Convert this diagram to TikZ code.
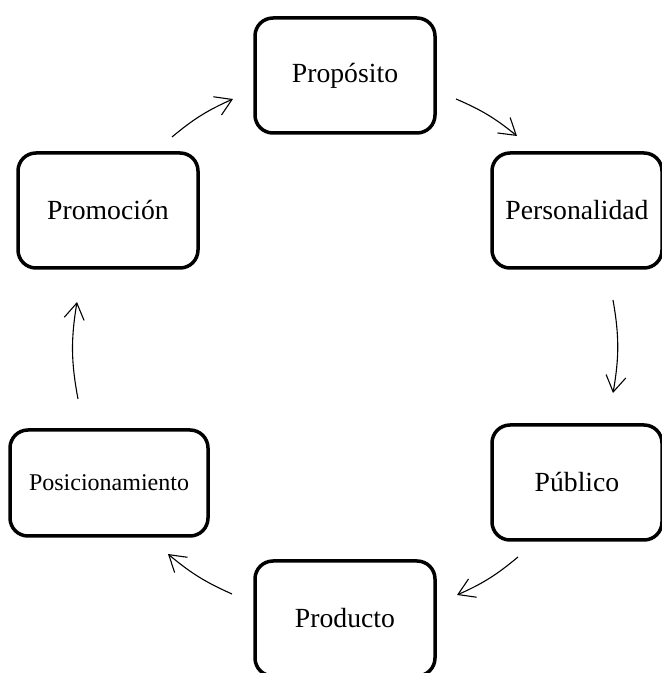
\documentclass[tikz,border=0pt]{standalone}
\usepackage{fontspec}
\setmainfont{Liberation Serif}
\usetikzlibrary{arrows.meta}
\begin{document}
\begin{tikzpicture}[x=1pt,y=1pt,
  stagebox/.style={draw=black, line width=3.5pt, rounded corners=18pt,
    minimum width=180pt, minimum height=115pt, inner sep=2pt,
    font=\fontsize{27.7}{32}\selectfont},
  cyclearrow/.style={line width=1.1pt, -{Straight Barb[length=16pt,width=20pt]}}
]
\useasboundingbox[fill=white] (0,0) rectangle (662,673);
\node[stagebox] (prop) at (345,597.5) {Propósito};
\node[stagebox, minimum width=170pt] (pers) at (577,462.5) {Personalidad};
\node[stagebox, minimum width=170pt] (pub) at (577,190.5) {Público};
\node[stagebox] (prod) at (345,54.5) {Producto};
\node[stagebox, minimum width=198pt, minimum height=106pt,
  font=\fontsize{24}{28}\selectfont] (posi) at (109,190) {Posicionamiento};
\node[stagebox] (promo) at (108,462.5) {Promoción};
% free ends of the connectors
\coordinate (a1s) at (172,536); \coordinate (a1e) at (233,574);
\coordinate (a2s) at (456,574); \coordinate (a2e) at (517,537);
\coordinate (a3s) at (613,373); \coordinate (a3e) at (613,280);
\coordinate (a4s) at (518,116); \coordinate (a4e) at (457,78);
\coordinate (a5s) at (232,79);  \coordinate (a5e) at (168,119);
\coordinate (a6s) at (78,274);  \coordinate (a6e) at (77,371);
\draw[cyclearrow] (a1s) to[bend left=8] (a1e);
\draw[cyclearrow] (a2s) to[bend left=8] (a2e);
\draw[cyclearrow] (a3s) to[bend left=10] (a3e);
\draw[cyclearrow] (a4s) to[bend left=8] (a4e);
\draw[cyclearrow] (a5s) to[bend left=8] (a5e);
\draw[cyclearrow] (a6s) to[bend left=10] (a6e);
\end{tikzpicture}
\end{document}
